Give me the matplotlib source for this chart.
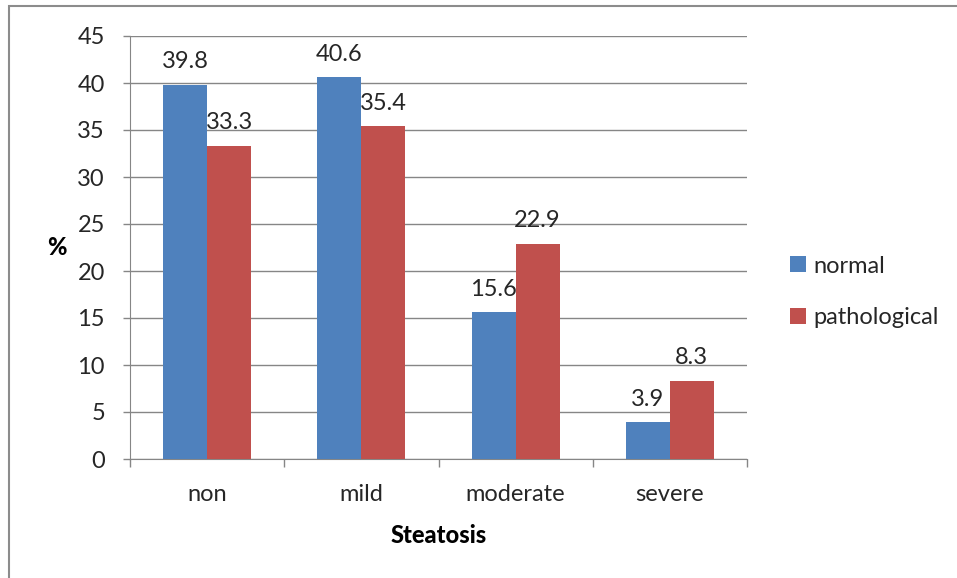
import matplotlib
matplotlib.use("Agg")
import matplotlib.pyplot as plt
import numpy as np
from matplotlib.patches import Rectangle

# du lieu doc tu hinh
categories = ["non", "mild", "moderate", "severe"]
normal = [39.8, 40.6, 15.6, 3.9]
pathological = [33.3, 35.4, 22.9, 8.3]
series_names = ["normal", "pathological"]
yticks = [0, 5, 10, 15, 20, 25, 30, 35, 40, 45]

BLUE = "#4F81BD"
RED = "#C0504D"
GRID = "#868686"
TXT = "#262626"
FS = 17

plt.rcParams["font.family"] = ["Lato", "DejaVu Sans"]

fig = plt.figure(figsize=(9.57, 5.78), dpi=100)
ax = fig.add_axes([130 / 957, 119 / 578, 617 / 957, 423 / 578])

# khung ngoai (chi thay canh trai va tren)
fig.patches.append(Rectangle((9 / 957, -0.1), 1.2, 1.1 - 6 / 578,
                             transform=fig.transFigure, fill=False,
                             edgecolor="#8c8c8c", lw=1.5, clip_on=False))

x = np.arange(len(categories))
w = 0.285
b1 = ax.bar(x - w / 2, normal, w, color=BLUE, label=series_names[0], zorder=3)
b2 = ax.bar(x + w / 2, pathological, w, color=RED, label=series_names[1], zorder=3)

for bars, vals in ((b1, normal), (b2, pathological)):
    for r, v in zip(bars, vals):
        ax.annotate(f"{v:g}", (r.get_x() + r.get_width() / 2, v),
                    xytext=(0, 9), textcoords="offset points",
                    ha="center", va="bottom", fontsize=FS, color=TXT)

ax.set_xlim(-0.5, len(categories) - 0.5)
ax.set_ylim(0, 45)
ax.set_yticks(yticks)
ax.yaxis.grid(True, color=GRID, lw=1, zorder=0)
ax.set_xticks(x)
ax.set_xticklabels(categories)
ax.set_xticks(np.arange(len(categories) + 1) - 0.5, minor=True)
ax.tick_params(axis="x", which="major", length=0, pad=18, labelsize=FS,
               labelcolor=TXT)
ax.tick_params(axis="x", which="minor", length=6, color=GRID, width=1)
ax.tick_params(axis="y", length=5, color=GRID, width=1, pad=13,
               labelsize=FS, labelcolor=TXT)

for s in ("top", "right"):
    ax.spines[s].set_visible(False)
for s in ("left", "bottom"):
    ax.spines[s].set_color(GRID)

ax.set_xlabel("Steatosis", fontsize=FS, fontweight="black", labelpad=14, color="black")
ax.set_ylabel("%", fontsize=FS, fontweight="black", rotation=0, labelpad=15,
              va="center", color="black")

leg = ax.legend(loc="center left", bbox_to_anchor=(769 / 957, 286 / 578),
                bbox_transform=fig.transFigure, frameon=False, fontsize=FS,
                handlelength=0.65, handleheight=0.65, handletextpad=0.35,
                labelspacing=1.3)
for t in leg.get_texts():
    t.set_color(TXT)

fig.savefig("out.png", dpi=100)
